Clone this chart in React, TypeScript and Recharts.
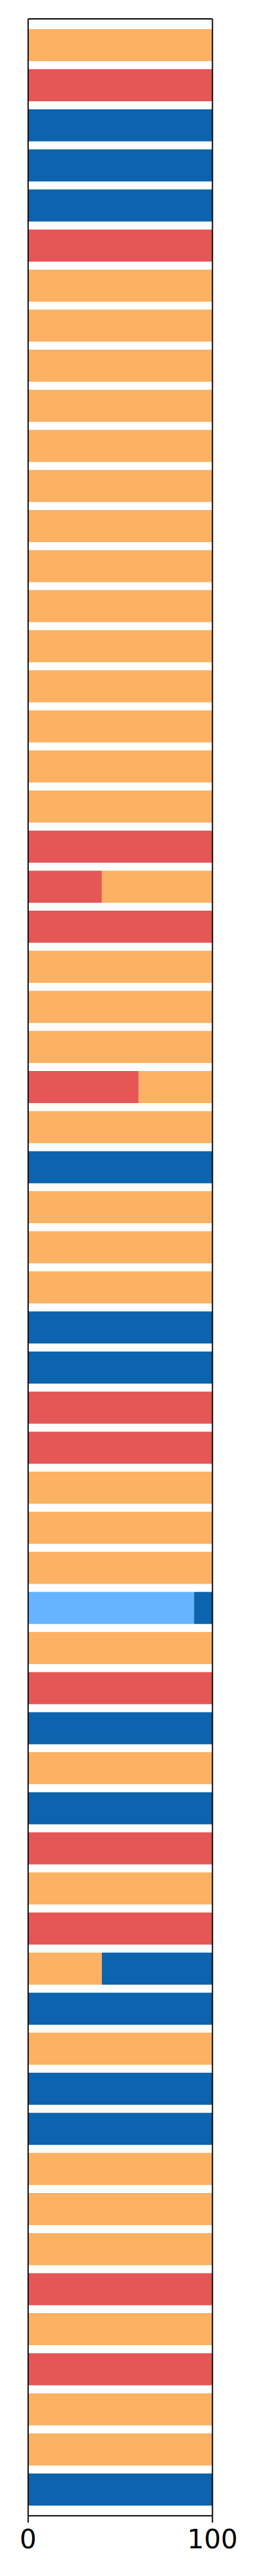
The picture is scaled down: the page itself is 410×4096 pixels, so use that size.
import { Bar, BarChart, XAxis, YAxis } from "recharts"

// one entry per row, top to bottom
const rows = [
  "1", "2", "3", "4", "5", "6", "7", "8", "9", "10",
  "11", "12", "13", "14", "15", "16", "17", "18", "19", "20",
  "21", "22", "23", "24", "25", "26", "27", "28", "29", "30",
  "31", "32", "33", "34", "35", "36", "37", "38", "39", "40",
  "41", "42", "43", "44", "45", "46", "47", "48", "49", "50",
  "51", "52", "53", "54", "55", "56", "57", "58", "59", "60",
  "61", "62",
]

const lightBlue = [
  0, 0, 0, 0, 0, 0, 0, 0, 0, 0,
  0, 0, 0, 0, 0, 0, 0, 0, 0, 0,
  0, 0, 0, 0, 0, 0, 0, 0, 0, 0,
  0, 0, 0, 0, 0, 0, 0, 0, 0, 90,
  0, 0, 0, 0, 0, 0, 0, 0, 0, 0,
  0, 0, 0, 0, 0, 0, 0, 0, 0, 0,
  0, 0,
]

const red = [
  0, 100, 0, 0, 0, 100, 0, 0, 0, 0,
  0, 0, 0, 0, 0, 0, 0, 0, 0, 0,
  100, 40, 100, 0, 0, 0, 60, 0, 0, 0,
  0, 0, 0, 0, 100, 100, 0, 0, 0, 0,
  0, 100, 0, 0, 0, 100, 0, 100, 0, 0,
  0, 0, 0, 0, 0, 0, 100, 0, 100, 0,
  0, 0,
]

const orange = [
  100, 0, 0, 0, 0, 0, 100, 100, 100, 100,
  100, 100, 100, 100, 100, 100, 100, 100, 100, 100,
  0, 60, 0, 100, 100, 100, 40, 100, 0, 100,
  100, 100, 0, 0, 0, 0, 100, 100, 100, 0,
  100, 0, 0, 100, 0, 0, 100, 0, 40, 0,
  100, 0, 0, 100, 100, 100, 0, 100, 0, 100,
  100, 0,
]

const blue = [
  0, 0, 100, 100, 100, 0, 0, 0, 0, 0,
  0, 0, 0, 0, 0, 0, 0, 0, 0, 0,
  0, 0, 0, 0, 0, 0, 0, 0, 100, 0,
  0, 0, 100, 100, 0, 0, 0, 0, 0, 10,
  0, 0, 100, 0, 100, 0, 0, 0, 60, 100,
  0, 100, 100, 0, 0, 0, 0, 0, 0, 0,
  0, 100,
]

const xTicks = [0, 100]

const data = rows.map((name, i) => ({
  name,
  lightBlue: lightBlue[i],
  red: red[i],
  orange: orange[i],
  blue: blue[i],
}))

const axisColor = "#000000"
const fontFamily = "'DejaVu Sans', sans-serif"
const spine = { stroke: axisColor, strokeWidth: 2 }

export default function App() {
  return (
    <div style={{ width: 410, height: 4096 }}>
      <style>{`body { margin: 0; }`}</style>
      <BarChart
        width={410}
        height={4096}
        data={data}
        layout="vertical"
        barCategoryGap="10%"
        margin={{ top: 29, right: 71.4, bottom: 35.7, left: 43.7 }}
      >
        <XAxis
          type="number"
          domain={[0, 100]}
          ticks={xTicks}
          height={60}
          tickSize={11}
          tickMargin={11.3}
          axisLine={spine}
          tickLine={spine}
          tick={{ fill: axisColor, fontSize: 42, fontFamily }}
          interval={0}
        />
        <XAxis
          xAxisId="top"
          orientation="top"
          type="number"
          domain={[0, 100]}
          ticks={xTicks}
          height={1}
          tick={false}
          tickLine={false}
          axisLine={spine}
        />
        <YAxis
          type="category"
          dataKey="name"
          width={1}
          tick={false}
          tickLine={false}
          padding={{ top: 10, bottom: 10 }}
          axisLine={spine}
        />
        <YAxis
          yAxisId="right"
          orientation="right"
          type="category"
          dataKey="name"
          width={1}
          tick={false}
          tickLine={false}
          axisLine={spine}
        />
        <Bar dataKey="lightBlue" stackId="a" fill="#66b4ff" isAnimationActive={false} />
        <Bar dataKey="red" stackId="a" fill="#e45756" isAnimationActive={false} />
        <Bar dataKey="orange" stackId="a" fill="#fdb163" isAnimationActive={false} />
        <Bar dataKey="blue" stackId="a" fill="#0b64ad" isAnimationActive={false} />
      </BarChart>
    </div>
  )
}
